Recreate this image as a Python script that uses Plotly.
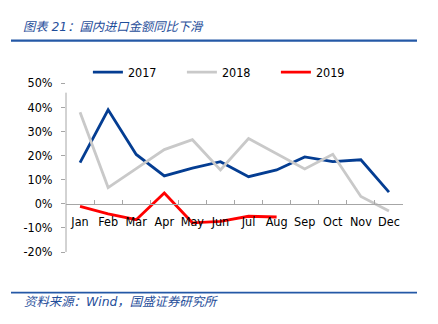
import plotly.graph_objects as go

months = ["Jan", "Feb", "Mar", "Apr", "May", "Jun",
          "Jul", "Aug", "Sep", "Oct", "Nov", "Dec"]

# Year-on-year growth of import value, %
yoy_2017 = [17.0, 38.9, 20.4, 11.5, 14.7, 17.4, 11.2, 14.0, 19.4, 17.4, 18.2, 4.8]
yoy_2018 = [37.9, 6.7, 14.5, 22.4, 26.5, 14.0, 27.0, 20.8, 14.4, 20.5, 3.0, -3.0]
yoy_2019 = [-1.1, -4.2, -6.6, 4.4, -7.9, -7.3, -5.2, -5.5]

y_ticks = [-20, -10, 0, 10, 20, 30, 40, 50]

W, H = 438, 324
L, R, T, B = 66, 35, 82.5, 72

tick_font = dict(family="DejaVu Sans Condensed, DejaVu Sans", size=12.5, color="#000000")
blue_text = "#1F4E9A"
note_family = "DejaVu Sans, Noto Sans CJK SC"

fig = go.Figure()
fig.add_trace(go.Scatter(x=months, y=yoy_2017, mode="lines", name="2017",
                         line=dict(color="#043D92", width=2.8)))
fig.add_trace(go.Scatter(x=months, y=yoy_2018, mode="lines", name="2018",
                         line=dict(color="#C9C9C9", width=2.8)))
fig.add_trace(go.Scatter(x=months[:len(yoy_2019)], y=yoy_2019, mode="lines", name="2019",
                         line=dict(color="#FF0000", width=2.8)))

fig.update_layout(
    width=W, height=H,
    margin=dict(l=L, r=R, t=T, b=B),
    paper_bgcolor="white", plot_bgcolor="white",
    showlegend=True,
    legend=dict(orientation="h", x=0.065, xanchor="left", y=1.062, yanchor="middle",
                font=tick_font, entrywidth=49, bgcolor="rgba(0,0,0,0)",
                itemclick=False),
    xaxis=dict(type="category", categoryorder="array", categoryarray=months,
               range=[-0.5, 11.5], showgrid=False, zeroline=False,
               showline=True, linecolor="#A6A6A6", linewidth=1,
               ticks="inside", tickson="boundaries", ticklen=4, tickcolor="#A6A6A6",
               anchor="free", position=20 / 70, tickfont=tick_font,
               tickangle=0, ticklabelstandoff=6),
    yaxis=dict(range=[-20, 50], tickvals=y_ticks,
               ticktext=[f"{v}%" for v in y_ticks],
               showgrid=False, zeroline=False, showline=False,
               ticks="outside", ticklen=4, tickcolor="#A6A6A6",
               tickfont=tick_font, ticklabelstandoff=6),
    shapes=[
        # vertical value axis
        dict(type="line", xref="paper", yref="y", x0=0, x1=0, y0=-20, y1=46,
             line=dict(color="#A6A6A6", width=1)),
        # rule under the heading
        dict(type="line", xref="paper", yref="paper",
             x0=(11 - L) / (W - L - R), x1=(417 - L) / (W - L - R),
             y0=(H - B - 40) / (H - T - B), y1=(H - B - 40) / (H - T - B),
             line=dict(color="#2458A6", width=2.2)),
        # rule above the source note
        dict(type="line", xref="paper", yref="paper",
             x0=(11 - L) / (W - L - R), x1=(417 - L) / (W - L - R),
             y0=(H - B - 292.7) / (H - T - B), y1=(H - B - 292.7) / (H - T - B),
             line=dict(color="#2458A6", width=1.6)),
    ],
    annotations=[
        dict(text="图表 21：国内进口金额同比下滑", xref="paper", yref="paper",
             x=(21 - L) / (W - L - R), y=(H - B - 26) / (H - T - B),
             xanchor="left", yanchor="middle", showarrow=False,
             font=dict(family=note_family, size=12.3, color=blue_text, style="italic")),
        dict(text="资料来源：Wind，国盛证券研究所", xref="paper", yref="paper",
             x=(22 - L) / (W - L - R), y=(H - B - 301.5) / (H - T - B),
             xanchor="left", yanchor="middle", showarrow=False,
             font=dict(family=note_family, size=12.4, color=blue_text, style="italic")),
    ],
)

fig.write_html("out.html")
